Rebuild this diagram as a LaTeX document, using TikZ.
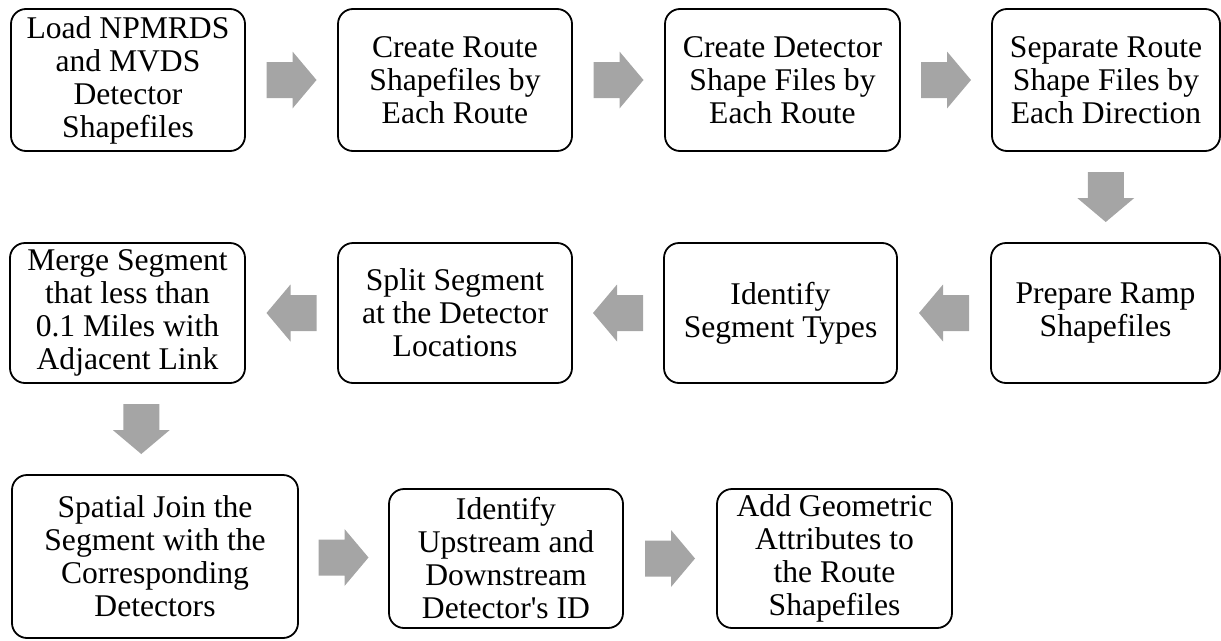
\documentclass[tikz,border=0pt]{standalone}
\usepackage{fontspec}
\setmainfont{Liberation Serif}
\usetikzlibrary{calc}
\definecolor{arrowgray}{HTML}{A5A5A5}
\begin{document}
\begin{tikzpicture}[x=1pt,y=-1pt,
  box/.style={draw, line width=1.8pt, rounded corners=15pt, align=center, inner sep=0pt,
    font=\fontsize{31.6}{33}\selectfont, minimum width=234pt, minimum height=142pt},
  barrow/.pic={\fill[arrowgray] (-25,-18) -- (1,-18) -- (1,-28.5) -- (25,0) -- (1,28.5) -- (1,18) -- (-25,18) -- cycle;}
]
\useasboundingbox (0,0) rectangle (1221,640);
% row 1
\node[box] (b1) at (128,80) {Load NPMRDS\\and MVDS\\Detector\\Shapefiles};
\node[box] (b2) at (455,80) {Create Route\\Shapefiles by\\Each Route};
\node[box, minimum width=235pt] (b3) at (782.5,80) {Create Detector\\Shape Files by\\Each Route};
\node[box, minimum width=228pt] (b4) at (1106,80) {Separate Route\\Shape Files by\\Each Direction};
% row 2
\node[box, minimum width=235pt, minimum height=140pt] (m1) at (127.5,313) {Merge Segment\\that less than\\0.1 Miles with\\Adjacent Link};
\node[box, minimum height=140pt] (m2) at (455,313) {Split Segment\\at the Detector\\Locations};
\node[box, minimum width=233pt, minimum height=140pt] (m3) at (780.5,313) {Identify\\Segment Types};
\node[box, minimum width=229pt, minimum height=140pt] (m4) at (1105.5,313) {Prepare Ramp\\Shapefiles};
% row 3
\node[box, minimum width=286pt, minimum height=163pt] (s1) at (155,556.5) {Spatial Join the\\Segment with the\\Corresponding\\Detectors};
\node[box, minimum height=139pt] (s2) at (506,558.5) {Identify\\Upstream and\\Downstream\\Detector\textquotesingle s ID};
\node[box, minimum width=235pt, minimum height=139pt] (s3) at (834.5,558.5) {Add Geometric\\Attributes to\\the Route\\Shapefiles};
% block arrows
\pic at ($(b1.east)!0.5!(b2.west)$) {barrow};
\pic at ($(b2.east)!0.5!(b3.west)$) {barrow};
\pic at ($(b3.east)!0.5!(b4.west)$) {barrow};
\pic[rotate=-90] at ($(b4.south)!0.5!(m4.north)$) {barrow};
\pic[rotate=180] at ($(m4.west)!0.5!(m3.east)$) {barrow};
\pic[rotate=180] at ($(m3.west)!0.5!(m2.east)$) {barrow};
\pic[rotate=180] at ($(m2.west)!0.5!(m1.east)$) {barrow};
\pic[rotate=-90] at ($(m1.south)!0.5!(s1.north)$) {barrow};
\pic at ($(s1.east)!0.5!(s2.west)$) {barrow};
\pic at ($(s2.east)!0.5!(s3.west)$) {barrow};
\end{tikzpicture}
\end{document}
